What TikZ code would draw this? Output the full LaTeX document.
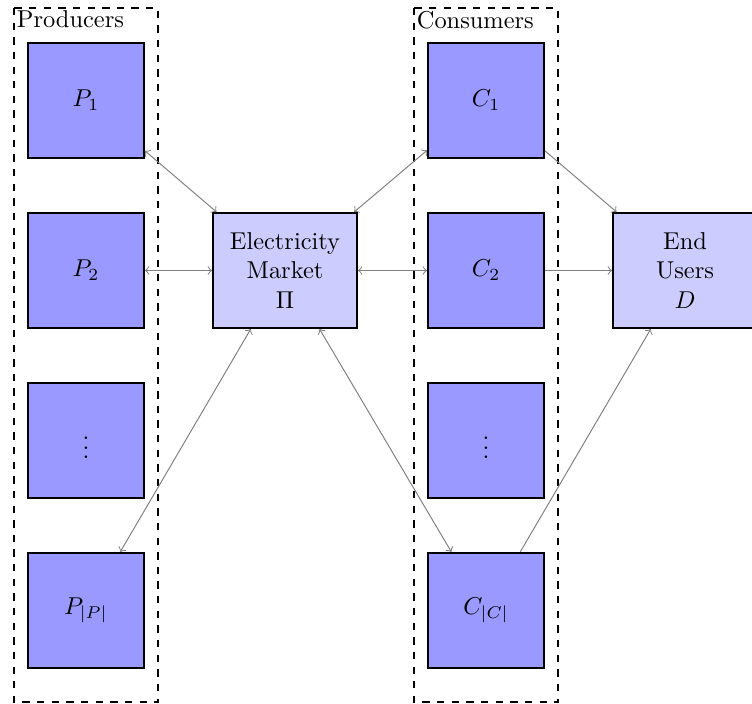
\documentclass[tikz,border=0pt]{standalone}
\usetikzlibrary{arrows}
\begin{document}
\begin{tikzpicture}[x=0.41pt,y=-0.41pt,
  agent/.style={draw=black,thick,fill=blue!40,rectangle,minimum width=47.5pt,minimum height=47.2pt,inner sep=0pt},
  hub/.style={draw=black,thick,fill=blue!20,rectangle,minimum width=59pt,minimum height=47.2pt,inner sep=0pt,align=center},
  group/.style={draw=black,thick,dashed},
  grouplabel/.style={anchor=north west,inner sep=1pt},
  link/.style={draw=gray,->},
  dlink/.style={draw=gray,<->}]
\useasboundingbox (0,0) rectangle (752,704);
% groups
\draw[group] (14,8) rectangle (158,702);
\draw[group] (414,8) rectangle (558,702);
\node[grouplabel] (plab) at (14,8) {Producers};
\node[grouplabel] (clab) at (414,8) {Consumers};
% producers
\node[agent] (p1) at (86,100.5) {$P_1$};
\node[agent] (p2) at (86,270.5) {$P_2$};
\node[agent] (pd) at (86,440.5) {$\vdots$};
\node[agent] (pn) at (86,610.5) {$P_{|P|}$};
% consumers
\node[agent] (c1) at (486,100.5) {$C_1$};
\node[agent] (c2) at (486,270.5) {$C_2$};
\node[agent] (cd) at (486,440.5) {$\vdots$};
\node[agent] (cn) at (486,610.5) {$C_{|C|}$};
% market and users
\node[hub] (m) at (285,270.5) {Electricity\\Market\\$\Pi$};
\node[hub] (u) at (685,270.5) {End\\Users\\$D$};
% connectors
\draw[dlink] (p1) -- (m);
\draw[dlink] (p2) -- (m);
\draw[dlink] (pn) -- (m);
\draw[dlink] (m) -- (c1);
\draw[dlink] (m) -- (c2);
\draw[dlink] (m) -- (cn);
\draw[link] (c1) -- (u);
\draw[link] (c2) -- (u);
\draw[link] (cn) -- (u);
\end{tikzpicture}
\end{document}
